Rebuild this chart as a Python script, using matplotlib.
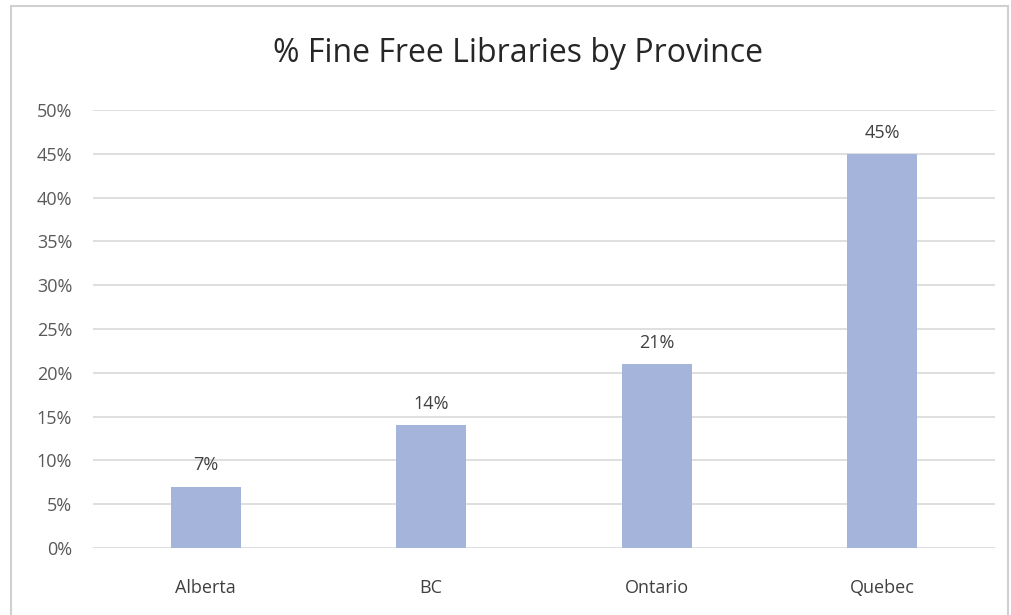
import matplotlib.pyplot as plt
from matplotlib.patches import Rectangle

provinces = ["Alberta", "BC", "Ontario", "Quebec"]
pct_fine_free = [7, 14, 21, 45]
y_ticks = [0, 5, 10, 15, 20, 25, 30, 35, 40, 45, 50]

plt.rcParams["font.family"] = ["Open Sans", "DejaVu Sans"]

fig = plt.figure(figsize=(10.12, 6.15), dpi=100)
ax = fig.add_axes([0.092, 0.109, 0.891, 0.712])

x = list(range(len(provinces)))
ax.bar(x, pct_fine_free, width=0.31, color="#a5b4da", zorder=3)

# value labels above bars
for xi, v in zip(x, pct_fine_free):
    ax.text(xi, v + 1.4, f"{v}%", ha="center", va="bottom", fontsize=13, color="#404040")

ax.set_xlim(-0.5, 3.5)
ax.set_ylim(0, 50)
ax.set_yticks(y_ticks)
ax.set_yticklabels([f"{t}%" for t in y_ticks], fontsize=13, color="#595959")
ax.set_xticks(x)
ax.set_xticklabels(provinces, fontsize=13, color="#404040")
ax.tick_params(axis="y", length=0, pad=15)
ax.tick_params(axis="x", length=0, pad=22)

ax.grid(axis="y", color="#d9d9d9", linewidth=1.2, zorder=0)
for s in ax.spines.values():
    s.set_visible(False)

fig.text(0.512, 0.913, "% Fine Free Libraries by Province", ha="center", va="center",
         fontsize=23, color="#262626")

# chart border
fig.patches.append(Rectangle((0.011, -0.01), 0.985, 1.0, transform=fig.transFigure,
                             fill=False, edgecolor="#d0d0d0", linewidth=1.5))

plt.savefig("out.png")
